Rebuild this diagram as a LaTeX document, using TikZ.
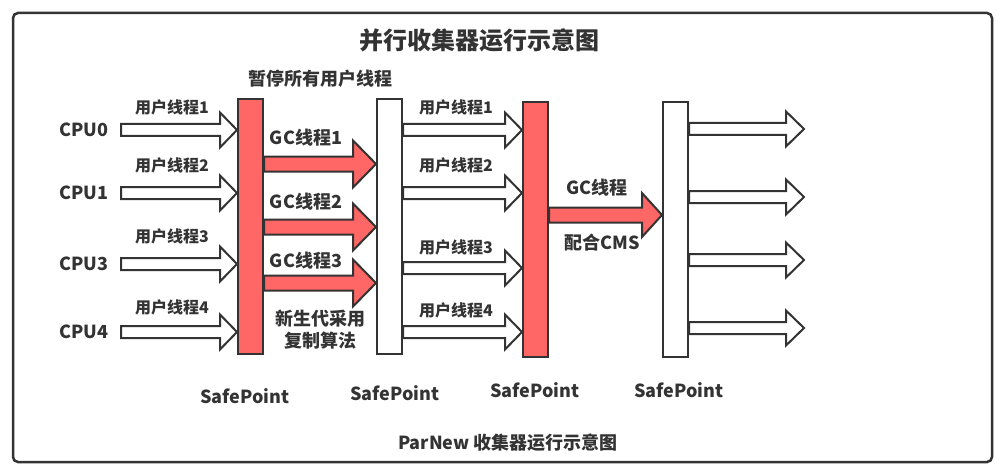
\documentclass[tikz,border=0pt]{standalone}
\usepackage{fontspec}
\setmainfont{Noto Sans CJK SC}
\usetikzlibrary{calc,positioning}
\definecolor{linegray}{HTML}{333333}
\definecolor{gcred}{HTML}{FF6666}
\tikzset{
  bar/.style={draw=linegray, line width=2pt, minimum width=25pt, minimum height=255pt, inner sep=0pt},
  redbar/.style={bar, fill=gcred},
  whitebar/.style={bar, fill=white},
  lbl/.style={text=linegray, inner sep=0pt, font=\bfseries\fontsize{18}{22}\selectfont},
  small/.style={lbl, font=\bfseries\fontsize{16}{18}\selectfont},
  hollow/.style={draw=linegray, line width=2pt, fill=white, line join=miter},
  gcfill/.style={draw=linegray, line width=2pt, fill=gcred, line join=miter},
}
% #2 shaft half width, #3 head half width, #4 head length, #5 from, #6 tip
\newcommand{\blockarrow}[6][hollow]{%
  \draw[#1] let \p1=(#5), \p2=(#6) in
    (\x1,\y1+#2) -- (\x2-#4,\y1+#2) -- (\x2-#4,\y1+#3) -- (\x2,\y1)
    -- (\x2-#4,\y1-#3) -- (\x2-#4,\y1-#2) -- (\x1,\y1-#2) -- cycle;}
\begin{document}
\begin{tikzpicture}[x=1pt,y=-1pt]
\useasboundingbox (0,0) rectangle (1006,476);
\draw[linegray, line width=2.5pt, rounded corners=5pt] (13,13) rectangle (992,462);

\node[lbl, font=\bfseries\fontsize{24}{28}\selectfont] (title) at (479,40) {并行收集器运行示意图};
\node[lbl] (pause) at (320,79) {暂停所有用户线程};

% safepoints
\node[redbar] (bar1) at (250.5,226.5) {};
\node[whitebar] (bar2) at (389.5,226.5) {};
\node[redbar] (bar3) at (535.5,229.5) {};
\node[whitebar] (bar4) at (675.5,229.5) {};

% cpus into the first safepoint
\foreach \k/\ypos in {0/130,1/193,3/264,4/332} {
  \node[lbl] (cpu\k) at (84,\ypos) {CPU\k};
  \coordinate (s\k) at (121,\ypos);
  \blockarrow{6pt}{17.5pt}{17pt}{s\k}{bar1.west |- s\k}
}
\foreach \i/\ypos in {1/107,2/165,3/236,4/307}
  \node[small] (ua\i) at (172,\ypos) {用户线程\i};

% gc threads
\foreach \i/\ypos in {1/164,2/227,3/283} {
  \coordinate (g\i) at (0,\ypos);
  \blockarrow[gcfill]{7.5pt}{23.5pt}{23pt}{bar1.east |- g\i}{bar2.west |- g\i}
}
\foreach \i/\ypos in {1/138,2/202,3/261}
  \node[lbl] (gc\i) at (306,\ypos) {GC线程\i};
\node[lbl, align=center] (copy) at (320,330) {新生代采用\\复制算法};

% user threads again
\foreach \i/\ypos in {1/130,2/193,3/268,4/332} {
  \coordinate (t\i) at (0,\ypos);
  \blockarrow{6pt}{17.5pt}{17pt}{bar2.east |- t\i}{bar3.west |- t\i}
}
\foreach \i/\ypos in {1/107,2/165,3/247,4/310}
  \node[small] (ub\i) at (456,\ypos) {用户线程\i};

% concurrent gc
\coordinate (c) at (0,215);
\blockarrow[gcfill]{7.5pt}{22pt}{20pt}{bar3.east |- c}{bar4.west |- c}
\node[lbl] (gcthread) at (597,188) {GC线程};
\node[lbl] (cms) at (602,243) {配合CMS};

% out of the last safepoint
\foreach \i/\ypos in {1/129,2/197,3/260,4/328} {
  \coordinate (o\i) at (804,\ypos);
  \blockarrow{6pt}{17.5pt}{18pt}{bar4.east |- o\i}{o\i}
}

\node[lbl] (sp1) at (245,396) {SafePoint};
\node[lbl] (sp2) at (395,393) {SafePoint};
\node[lbl] (sp3) at (535,390) {SafePoint};
\node[lbl] (sp4) at (679,390) {SafePoint};

\node[lbl] (caption) at (508,443) {ParNew 收集器运行示意图};
\end{tikzpicture}
\end{document}
